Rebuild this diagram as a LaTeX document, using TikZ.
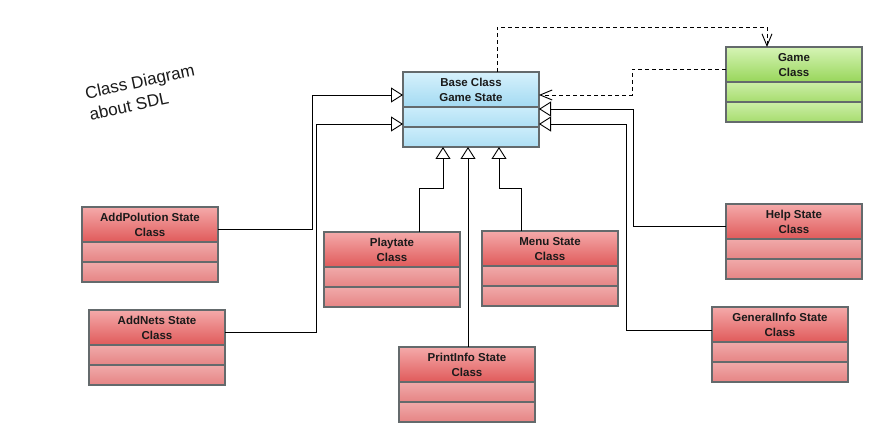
\documentclass[tikz,border=0pt]{standalone}
\usepackage{fontspec}
\setmainfont{Liberation Sans}
\usetikzlibrary{arrows.meta,calc}

% compartment palettes
\definecolor{blueHeadTop}{HTML}{D6F1FC}
\definecolor{blueHeadBot}{HTML}{A3DAF2}
\definecolor{blueRowTop}{HTML}{CCEDFB}
\definecolor{blueRowBot}{HTML}{AEDFF4}
\definecolor{redHeadTop}{HTML}{F4AAAA}
\definecolor{redHeadBot}{HTML}{E05A5A}
\definecolor{redRowTop}{HTML}{F0AAAA}
\definecolor{redRowBot}{HTML}{E68484}
\definecolor{greenHeadTop}{HTML}{D6F4B6}
\definecolor{greenHeadBot}{HTML}{98D65A}
\definecolor{greenRowTop}{HTML}{CDEFA8}
\definecolor{greenRowBot}{HTML}{A6DC6E}
\definecolor{boxline}{HTML}{646A6C}
\definecolor{ink}{HTML}{1A1A1A}

\tikzset{
  classbox/.style={draw=boxline, line width=2pt, minimum width=136pt,
    minimum height=75pt, inner sep=0pt, outer sep=0pt, anchor=north west},
  classtitle/.style={align=center, text=ink,
    font=\fontsize{11.5}{15}\selectfont\bfseries},
  inherit/.style={draw=black, line width=0.9pt,
    -{Triangle[open, length=12pt, width=15pt]}},
  depends/.style={draw=black, line width=0.9pt, dashed,
    dash pattern=on 4pt off 3pt,
    -{Straight Barb[length=12pt, width=10pt]}},
}

% #1 name, #2 x, #3 y (top left), #4 title, #5 palette
\newcommand\umlclass[5]{%
  \shade[top color=#5HeadTop, bottom color=#5HeadBot] (#2,#3) rectangle ++(136,35);
  \shade[top color=#5RowTop, bottom color=#5RowBot] (#2,{#3+35}) rectangle ++(136,20);
  \shade[top color=#5RowTop, bottom color=#5RowBot] (#2,{#3+55}) rectangle ++(136,20);
  \draw[boxline, line width=2pt] (#2,{#3+35}) -- ++(136,0);
  \draw[boxline, line width=2pt] (#2,{#3+55}) -- ++(136,0);
  \node[classbox] (#1) at (#2,#3) {};
  \node[classtitle] (#1-title) at ([yshift=-18pt]#1.north) {#4};
}

\begin{document}
\begin{tikzpicture}[x=1pt, y=-1pt]
  \fill[white] (0,0) rectangle (883,443);
  \useasboundingbox (0,0) rectangle (883,443);

  \node[rotate=12, align=left, text=ink, inner sep=0pt,
        font=\fontsize{17}{21.5}\selectfont] (caption) at (142,92)
        {Class Diagram\\about SDL};

  \umlclass{base}{403}{72}{Base Class\\Game State}{blue}
  \umlclass{game}{726}{47}{Game\\Class}{green}
  \umlclass{poll}{82}{207}{AddPolution State\\Class}{red}
  \umlclass{nets}{89}{310}{AddNets State\\Class}{red}
  \umlclass{play}{324}{232}{Playtate\\Class}{red}
  \umlclass{menu}{482}{231}{Menu State\\Class}{red}
  \umlclass{print}{399}{347}{PrintInfo State\\Class}{red}
  \umlclass{help}{726}{204}{Help State\\Class}{red}
  \umlclass{general}{712}{307}{GeneralInfo State\\Class}{red}

  % generalisations towards the base state
  \draw[inherit] ([yshift=-22pt]poll.north east) -- ++(94,0)
        |- ([yshift=-23pt]base.north west);
  \draw[inherit] ([yshift=-22pt]nets.north east) -- ++(91,0)
        |- ([yshift=-52pt]base.north west);
  \draw[inherit] ([xshift=95pt]play.north west) -- ++(0,-44)
        -| ([xshift=40pt]base.south west);
  \draw[inherit] ([xshift=69pt]print.north west)
        -- ([xshift=65pt]base.south west);
  \draw[inherit] ([xshift=39pt]menu.north west) -- ++(0,-43)
        -| ([xshift=96pt]base.south west);
  \draw[inherit] ([yshift=-22pt]help.north west) -- ++(-93,0)
        |- ([yshift=-37pt]base.north east);
  \draw[inherit] ([yshift=-23pt]general.north west) -- ++(-86,0)
        |- ([yshift=-52pt]base.north east);

  % dependencies between base state and game
  \draw[depends] ([xshift=94pt]base.north west) -- ++(0,-45)
        -| ([xshift=41pt]game.north west);
  \draw[depends] ([yshift=-22pt]game.north west) -- ++(-94,0)
        |- ([yshift=-23pt]base.north east);
\end{tikzpicture}
\end{document}
